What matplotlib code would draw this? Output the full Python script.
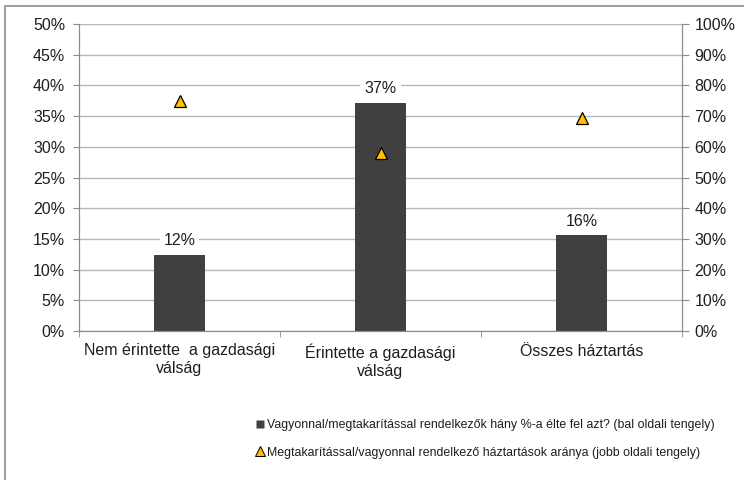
import matplotlib
matplotlib.use("Agg")
import matplotlib.pyplot as plt
from matplotlib.patches import Rectangle
from matplotlib.ticker import FixedLocator, FuncFormatter
from matplotlib.lines import Line2D

plt.rcParams['font.family'] = ['Liberation Sans', 'DejaVu Sans']

categories = ["Nem érintette  a gazdasági\nválság",
              "Érintette a gazdasági\nválság",
              "Összes háztartás"]
used_savings_pct = [12.4, 37.2, 15.6]      # left axis, bars
households_with_savings_pct = [74.8, 58.0, 69.4]  # right axis, triangles

bar_label = "Vagyonnal/megtakarítással rendelkezők hány %-a élte fel azt? (bal oldali tengely)"
tri_label = "Megtakarítással/vagyonnal rendelkező háztartások aránya (jobb oldali tengely)"

W, H = 744, 480
fig = plt.figure(figsize=(W / 100, H / 100), dpi=100)

# outer chart frame
fig.patches.append(Rectangle((5 / W, -0.1), 1.2, 1 - 6 / H + 0.1, transform=fig.transFigure,
                             fill=False, edgecolor="#8c8c8c", linewidth=1.2))

ax = fig.add_axes([79 / W, 1 - 331 / H, (682 - 79) / W, (331 - 24) / H])
ax2 = ax.twinx()

x = list(range(len(categories)))
grid_c = "#b8b8b8"
spine_c = "#8c8c8c"
text_c = "#1e1e1e"
fs = 11.5

ax.set_ylim(0, 50)
ax.set_xlim(-0.5, len(categories) - 0.5)
ax.yaxis.set_major_locator(FixedLocator(range(0, 51, 5)))
ax.yaxis.set_major_formatter(FuncFormatter(lambda v, p: f"{v:.0f}%"))
ax.set_axisbelow(True)
ax.grid(axis="y", color=grid_c, linewidth=1.0)

ax.bar(x, used_savings_pct, width=0.25, color="#404040", zorder=2)
for xi, v in zip(x, used_savings_pct):
    ax.text(xi, v + 2.3, f"{v:.0f}%", ha="center", va="center", fontsize=fs,
            color=text_c, zorder=3,
            bbox=dict(boxstyle="square,pad=0.25", facecolor="white", edgecolor="none"))

ax2.set_ylim(0, 100)
ax2.yaxis.set_major_locator(FixedLocator(range(0, 101, 10)))
ax2.yaxis.set_major_formatter(FuncFormatter(lambda v, p: f"{v:.0f}%"))
ax2.plot(x, households_with_savings_pct, linestyle="none", marker="^", markersize=9,
         markerfacecolor="#FFC000", markeredgecolor="black", markeredgewidth=0.9, zorder=4)

ax.set_xticks(x)
ax.set_xticklabels(categories, fontsize=fs, color=text_c, linespacing=1.22)
ax.tick_params(axis="x", length=0, pad=9)
ax.set_xticks([i - 0.5 for i in range(len(categories) + 1)], minor=True)
ax.tick_params(axis="x", which="minor", length=4, color=spine_c, direction="out")

for a in (ax, ax2):
    a.spines["top"].set_visible(False)
    for side in ("left", "right", "bottom"):
        a.spines[side].set_color(spine_c)
ax.tick_params(axis="y", length=4, color=spine_c, labelsize=fs, labelcolor=text_c, pad=6)
ax2.tick_params(axis="y", length=5, color=spine_c, labelsize=fs, labelcolor=text_c, pad=4)

handles = [Line2D([], [], linestyle="none", marker="s", markersize=6,
                  markerfacecolor="#404040", markeredgecolor="none"),
           Line2D([], [], linestyle="none", marker="^", markersize=6.5,
                  markerfacecolor="#FFC000", markeredgecolor="black", markeredgewidth=0.7)]
fig.legend(handles, [bar_label, tri_label], loc="center", bbox_to_anchor=(485 / W, 1 - 439 / H),
           frameon=False, fontsize=8.95, handlelength=0.8, handletextpad=0.15,
           labelspacing=1.25, borderpad=0, labelcolor=text_c)

fig.savefig("out.png", dpi=100)
